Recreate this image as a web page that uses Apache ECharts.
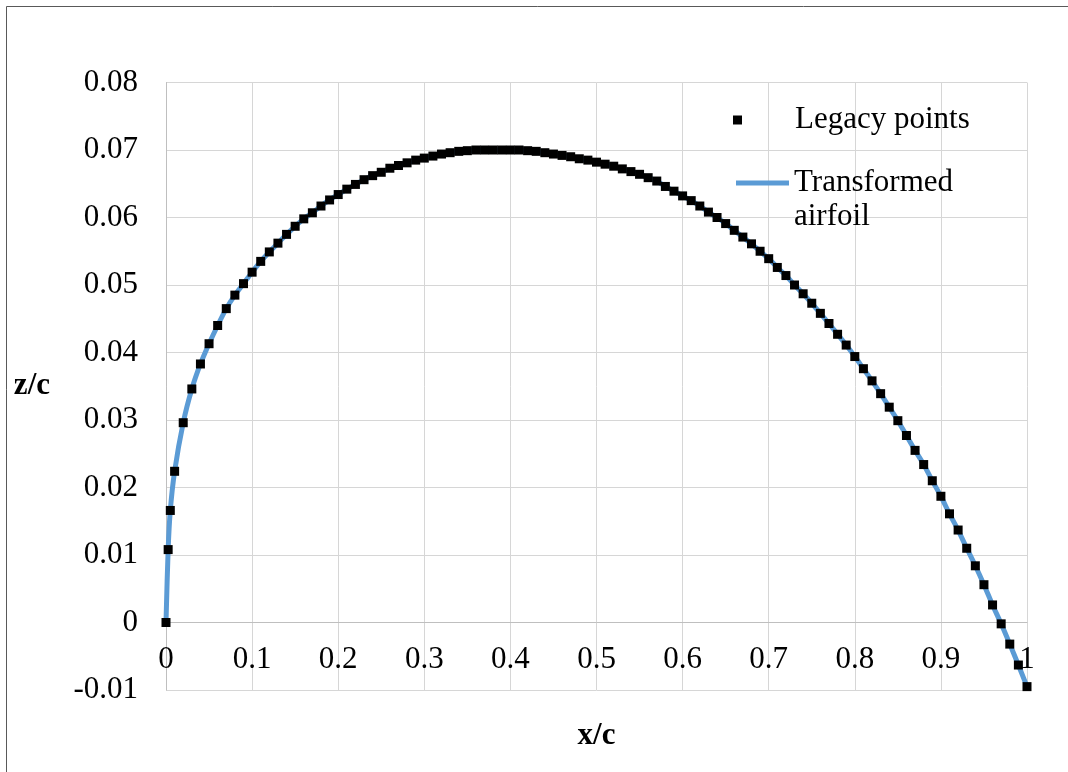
<!DOCTYPE html>
<html>
<head>
<meta charset="utf-8">
<title>Camber line</title>
<script src="https://cdn.jsdelivr.net/npm/echarts@6/dist/echarts.min.js"></script>
<style>
  html, body { margin: 0; padding: 0; background: #ffffff; }
  #chart { width: 1068px; height: 772px; }
</style>
</head>
<body>
<div id="chart"></div>
<script>
// Chordwise stations x/c
const stationX = [
  0, 0.0025, 0.005, 0.01, 0.02, 0.03, 0.04, 0.05, 0.06, 0.07, 0.08, 0.09,
  0.10, 0.11, 0.12, 0.13, 0.14, 0.15, 0.16, 0.17, 0.18, 0.19,
  0.20, 0.21, 0.22, 0.23, 0.24, 0.25, 0.26, 0.27, 0.28, 0.29,
  0.30, 0.31, 0.32, 0.33, 0.34, 0.35, 0.36, 0.37, 0.38, 0.39,
  0.40, 0.41, 0.42, 0.43, 0.44, 0.45, 0.46, 0.47, 0.48, 0.49,
  0.50, 0.51, 0.52, 0.53, 0.54, 0.55, 0.56, 0.57, 0.58, 0.59,
  0.60, 0.61, 0.62, 0.63, 0.64, 0.65, 0.66, 0.67, 0.68, 0.69,
  0.70, 0.71, 0.72, 0.73, 0.74, 0.75, 0.76, 0.77, 0.78, 0.79,
  0.80, 0.81, 0.82, 0.83, 0.84, 0.85, 0.86, 0.87, 0.88, 0.89,
  0.90, 0.91, 0.92, 0.93, 0.94, 0.95, 0.96, 0.97, 0.98, 0.99, 1.00
];

// Camber ordinates z/c at each station
const camberZ = [
  0, 0.0108, 0.0166, 0.0224, 0.0296, 0.0346, 0.0383, 0.0413, 0.0440, 0.0465, 0.0485, 0.0502,
  0.0519, 0.0535, 0.0549, 0.0562, 0.0575, 0.0587, 0.0598, 0.0607, 0.0617, 0.0626,
  0.0634, 0.0642, 0.0649, 0.0656, 0.0662, 0.0667, 0.0673, 0.0677, 0.0681, 0.0685,
  0.0688, 0.0691, 0.0694, 0.0696, 0.0698, 0.0699, 0.0700, 0.0700, 0.0700, 0.0700,
  0.0700, 0.0700, 0.0699, 0.0698, 0.0696, 0.0694, 0.0692, 0.0690, 0.0687, 0.0685,
  0.0682, 0.0679, 0.0676, 0.0672, 0.0668, 0.0664, 0.0659, 0.0654, 0.0646, 0.0639,
  0.0632, 0.0625, 0.0617, 0.0608, 0.0600, 0.0591, 0.0581, 0.0571, 0.0561, 0.0550,
  0.0539, 0.0526, 0.0514, 0.0500, 0.0487, 0.0473, 0.0458, 0.0443, 0.0427, 0.0411,
  0.0394, 0.0376, 0.0358, 0.0339, 0.0319, 0.0299, 0.0277, 0.0255, 0.0234, 0.0210,
  0.0187, 0.0161, 0.0137, 0.0110, 0.0084, 0.0056, 0.0026, -0.0002, -0.0032, -0.0063, -0.0095
];

const seriesNames = ['Legacy points', 'Transformed airfoil'];
const xTitle = 'x/c';
const zTitle = 'z/c';

const points = stationX.map((x, i) => [x, camberZ[i]]);

const serif = '"Liberation Serif", "DejaVu Serif", serif';

const chart = echarts.init(document.getElementById('chart'), null, { renderer: 'canvas' });

chart.setOption({
  backgroundColor: '#ffffff',
  animation: false,
  textStyle: { fontFamily: serif },
  graphic: [{
    type: 'rect',
    shape: { x: 6.5, y: 6.5, width: 1200, height: 900 },
    style: { fill: 'none', stroke: '#595959', lineWidth: 1 },
    silent: true,
    z: -10
  }],
  grid: {
    left: 166, right: 41, top: 82.5, bottom: 82,
    containLabel: false,
    outerBoundsMode: 'none'
  },
  legend: [
    {
      data: [seriesNames[0]],
      left: 733, top: 103,
      padding: 0,
      icon: 'rect',
      itemWidth: 9, itemHeight: 9,
      itemStyle: { color: '#000000', opacity: 1 },
      textStyle: { fontFamily: serif, fontSize: 31, color: '#000000', lineHeight: 34, padding: [0, 0, 0, 48] }
    },
    {
      data: [seriesNames[1]],
      left: 736, top: 166,
      padding: 0,
      icon: 'path://M0,0H0.01V0.01H0Z M0,14.5H53V19.5H0Z M0,67.99H0.01V68H0Z',
      itemWidth: 53, itemHeight: 68,
      itemGap: 0,
      itemStyle: { color: '#5b9bd5' },
      formatter: name => name.replace(' ', '\n'),
      textStyle: { fontFamily: serif, fontSize: 31, color: '#000000', lineHeight: 34 }
    }
  ],
  xAxis: {
    type: 'value',
    min: 0, max: 1, interval: 0.1,
    name: xTitle,
    nameLocation: 'middle',
    nameGap: 30,
    nameTextStyle: { fontFamily: serif, fontSize: 31, fontWeight: 'bold', color: '#000000' },
    axisLine: { show: true, onZero: true, lineStyle: { color: '#bfbfbf', width: 1 } },
    axisTick: { show: false },
    axisLabel: {
      margin: -46,
      fontFamily: serif, fontSize: 31, color: '#000000',
      formatter: v => String(+v.toFixed(1))
    },
    splitLine: { show: true, lineStyle: { color: '#d6d6d6', width: 1 } }
  },
  yAxis: {
    type: 'value',
    min: -0.01, max: 0.08, interval: 0.01,
    name: zTitle,
    nameLocation: 'middle',
    nameRotate: 0,
    nameGap: 116,
    nameTextStyle: { fontFamily: serif, fontSize: 31, fontWeight: 'bold', color: '#000000' },
    axisLine: { show: true, onZero: false, lineStyle: { color: '#bfbfbf', width: 1 } },
    axisTick: { show: false },
    axisLabel: {
      margin: 28,
      fontFamily: serif, fontSize: 31, color: '#000000',
      formatter: v => String(+v.toFixed(2))
    },
    splitLine: { show: true, lineStyle: { color: '#d6d6d6', width: 1 } }
  },
  series: [
    {
      name: seriesNames[1],
      type: 'line',
      data: points,
      smooth: 0.3,
      showSymbol: false,
      symbol: 'none',
      lineStyle: { color: '#5b9bd5', width: 5 },
      itemStyle: { color: '#5b9bd5' },
      z: 2
    },
    {
      name: seriesNames[0],
      type: 'scatter',
      data: points,
      symbol: 'rect',
      symbolSize: 9,
      itemStyle: { color: '#000000', opacity: 1, borderWidth: 0 },
      z: 3
    }
  ]
});
</script>
</body>
</html>
